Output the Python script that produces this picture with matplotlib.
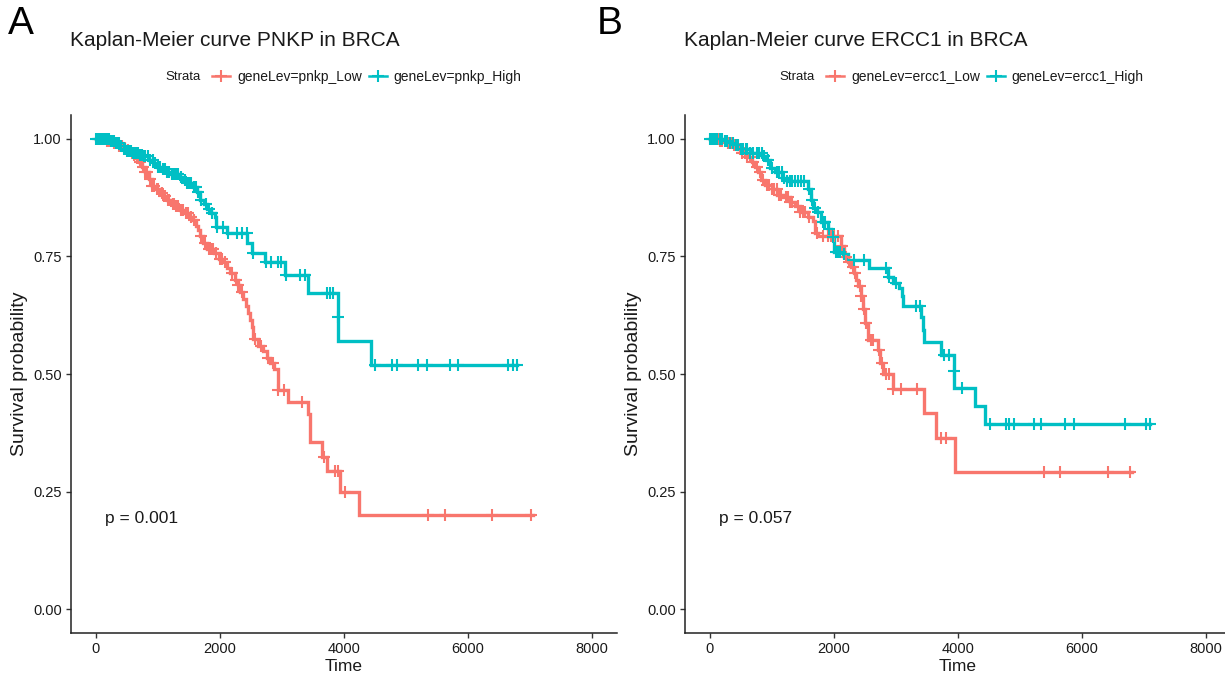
import numpy as np
import matplotlib
matplotlib.use("Agg")
import matplotlib.pyplot as plt
from matplotlib.lines import Line2D

plt.rcParams["font.family"] = ["Liberation Sans", "DejaVu Sans"]

RED = "#F8766D"
TEAL = "#00BFC4"

# ---------------- PNKP (panel A) ----------------
pnkp_low_time = [0, 150, 280, 360, 440, 500, 550, 600, 640, 700, 740, 790, 850, 900, 950,
                 1030, 1090, 1145, 1210, 1275, 1350, 1430, 1515, 1560, 1610, 1640, 1680,
                 1725, 1790, 1900, 1980, 2050, 2110, 2160, 2240, 2290, 2330, 2380, 2420,
                 2450, 2480, 2510, 2535, 2620, 2700, 2760, 2810, 2870, 2940, 3100, 3420,
                 3450, 3640, 3720, 3935, 4240]
pnkp_low_surv = [1.0, 0.995, 0.99, 0.985, 0.98, 0.975, 0.97, 0.965, 0.958, 0.95, 0.94, 0.93,
                 0.915, 0.90, 0.893, 0.885, 0.878, 0.87, 0.862, 0.856, 0.849, 0.842, 0.834,
                 0.828, 0.815, 0.805, 0.792, 0.779, 0.765, 0.758, 0.745, 0.737, 0.726, 0.715,
                 0.70, 0.688, 0.675, 0.66, 0.645, 0.63, 0.615, 0.60, 0.575, 0.56, 0.548,
                 0.535, 0.524, 0.51, 0.467, 0.44, 0.414, 0.355, 0.323, 0.293, 0.25, 0.20]
pnkp_low_end = 7050
pnkp_low_censor = [30, 60, 100, 140, 180, 220, 250, 300, 320, 380, 400, 430, 470, 520, 580,
                   620, 660, 690, 720, 760, 800, 820, 870, 900, 930, 980, 1010, 1060, 1100,
                   1120, 1160, 1180, 1240, 1260, 1300, 1330, 1380, 1410, 1460, 1490, 1540,
                   1590, 1700, 1760, 1820, 1850, 1880, 1890, 1940, 2000, 2040, 2080, 2190,
                   2260, 2290, 2350, 2560, 2660, 2780, 2850, 2940, 3030, 3320, 3670, 3860,
                   3910, 4020, 5350, 5630, 6390, 7010]

pnkp_high_time = [0, 230, 300, 380, 420, 500, 580, 710, 760, 850, 930, 980, 1060, 1120,
                  1190, 1355, 1400, 1460, 1560, 1630, 1677, 1740, 1790, 1850, 1920, 1930,
                  2110, 2440, 2520, 2720, 3050, 3420, 3900, 3910, 4435]
pnkp_high_surv = [1.0, 0.995, 0.99, 0.985, 0.978, 0.973, 0.97, 0.966, 0.962, 0.955, 0.948,
                  0.94, 0.935, 0.93, 0.924, 0.919, 0.912, 0.906, 0.897, 0.887, 0.87, 0.86,
                  0.85, 0.842, 0.834, 0.813, 0.80, 0.779, 0.758, 0.737, 0.711, 0.671, 0.622,
                  0.571, 0.52]
pnkp_high_end = 6790
pnkp_high_censor = [0, 30, 50, 80, 100, 120, 140, 160, 180, 210, 240, 260, 290, 330, 350,
                    370, 400, 450, 470, 500, 530, 560, 600, 620, 650, 680, 720, 740, 780,
                    800, 840, 880, 920, 960, 1010, 1040, 1090, 1110, 1150, 1180, 1220, 1260,
                    1300, 1330, 1380, 1430, 1470, 1500, 1530, 1590, 1610, 1650, 1700, 1770,
                    1820, 1880, 1960, 2050, 2130, 2270, 2350, 2430, 2530, 2750, 2830, 2940,
                    2990, 3070, 3290, 3370, 3720, 3770, 3830, 3905, 4500, 4770, 4850, 5190,
                    5335, 5710, 5840, 6650, 6720, 6790]

# ---------------- ERCC1 (panel B) ----------------
ercc1_low_time = [0, 150, 300, 375, 455, 520, 600, 680, 730, 780, 830, 890, 1000, 1090,
                  1180, 1290, 1380, 1460, 1575, 1670, 1700, 1750, 2110, 2160, 2220, 2270,
                  2320, 2360, 2395, 2430, 2465, 2500, 2545, 2710, 2750, 2790, 2950, 3455,
                  3650, 3950]
ercc1_low_surv = [1.0, 0.995, 0.99, 0.987, 0.977, 0.97, 0.96, 0.951, 0.94, 0.928, 0.913,
                  0.902, 0.892, 0.881, 0.875, 0.866, 0.856, 0.845, 0.834, 0.824, 0.80, 0.792,
                  0.771, 0.749, 0.737, 0.728, 0.715, 0.70, 0.686, 0.665, 0.637, 0.609, 0.573,
                  0.552, 0.524, 0.501, 0.469, 0.418, 0.365, 0.291]
ercc1_low_end = 6800
ercc1_low_censor = [40, 80, 130, 170, 200, 260, 300, 340, 390, 420, 480, 520, 560, 600, 640,
                    700, 760, 810, 860, 920, 960, 1000, 1040, 1080, 1120, 1150, 1220, 1260,
                    1300, 1330, 1420, 1460, 1500, 1540, 1600, 1730, 1820, 1900, 1950, 2000,
                    2060, 2130, 2190, 2250, 2300, 2340, 2420, 2440, 2480, 2520, 2600, 2630,
                    2720, 2770, 2840, 2880, 2960, 3080, 3340, 3730, 3810, 5390, 5650, 6410,
                    6780]

ercc1_high_time = [0, 210, 300, 375, 490, 650, 845, 900, 975, 1050, 1170, 1250, 1575, 1625,
                   1670, 1720, 1785, 1900, 1950, 2000, 2150, 2220, 2565, 2870, 2950, 3050,
                   3090, 3115, 3400, 3430, 3460, 3730, 3930, 3935, 4270, 4430]
ercc1_high_surv = [1.0, 0.995, 0.99, 0.987, 0.977, 0.97, 0.962, 0.955, 0.938, 0.928, 0.917,
                   0.909, 0.892, 0.87, 0.853, 0.843, 0.822, 0.807, 0.79, 0.76, 0.754, 0.743,
                   0.726, 0.707, 0.694, 0.683, 0.665, 0.645, 0.622, 0.594, 0.567, 0.541,
                   0.507, 0.471, 0.433, 0.393]
ercc1_high_end = 7090
ercc1_high_censor = [0, 30, 60, 90, 120, 170, 200, 240, 280, 330, 370, 420, 450, 500, 530,
                     580, 600, 650, 700, 760, 800, 840, 880, 940, 1010, 1080, 1120, 1160,
                     1200, 1250, 1290, 1330, 1380, 1420, 1470, 1520, 1600, 1650, 1690, 1750,
                     1820, 1860, 1920, 1980, 2030, 2060, 2100, 2160, 2320, 2480, 2840, 2890,
                     3000, 3330, 3380, 3780, 3860, 3932, 4060, 4510, 4780, 4820, 4900, 5230,
                     5340, 5730, 5870, 6690, 7030, 7090]

panels = [
    dict(letter="A", title="Kaplan-Meier curve PNKP in BRCA", gene="pnkp", pval="p = 0.001",
         low=(pnkp_low_time, pnkp_low_surv, pnkp_low_end, pnkp_low_censor),
         high=(pnkp_high_time, pnkp_high_surv, pnkp_high_end, pnkp_high_censor),
         left_px=71, letter_px=8),
    dict(letter="B", title="Kaplan-Meier curve ERCC1 in BRCA", gene="ercc1", pval="p = 0.057",
         low=(ercc1_low_time, ercc1_low_surv, ercc1_low_end, ercc1_low_censor),
         high=(ercc1_high_time, ercc1_high_surv, ercc1_high_end, ercc1_high_censor),
         left_px=685, letter_px=597),
]

W, H = 1225, 681
fig = plt.figure(figsize=(W / 100, H / 100), dpi=100)
fig.patch.set_facecolor("white")

AX_W, AX_BOTTOM, AX_TOP = 546, 633, 115
TICK_COLOR = "#333333"
TEXT_COLOR = "#1a1a1a"
LW = 2.4
MS = 8
MEW = 1.5


def draw_km(ax, time, surv, end, censor, color):
    t = np.asarray(time, dtype=float)
    s = np.asarray(surv, dtype=float)
    tx = np.append(t, end)
    sx = np.append(s, s[-1])
    ax.step(tx, sx, where="post", color=color, lw=LW, solid_joinstyle="miter", zorder=2)
    c = np.asarray(censor, dtype=float)
    idx = np.searchsorted(t, c, side="right") - 1
    ax.plot(c, s[idx], ls="none", marker="+", ms=MS, mew=MEW, color=color, zorder=3)


for p in panels:
    left = p["left_px"]
    ax = fig.add_axes([left / W, 1 - AX_BOTTOM / H, AX_W / W, (AX_BOTTOM - AX_TOP) / H])
    draw_km(ax, *p["low"], RED)
    draw_km(ax, *p["high"], TEAL)

    ax.set_xlim(-400, 8400)
    ax.set_ylim(-0.05, 1.05)
    ax.set_xticks([0, 2000, 4000, 6000, 8000])
    ax.set_yticks([0, 0.25, 0.5, 0.75, 1.0])
    ax.set_yticklabels(["0.00", "0.25", "0.50", "0.75", "1.00"])
    for side in ("top", "right"):
        ax.spines[side].set_visible(False)
    for side in ("left", "bottom"):
        ax.spines[side].set_linewidth(1.1)
        ax.spines[side].set_color("#222222")
    ax.tick_params(axis="both", direction="out", length=3.5, width=1.0, color=TICK_COLOR,
                   labelsize=10.5, labelcolor=TEXT_COLOR, pad=3)
    ax.set_xlabel("Time", fontsize=12.5, color=TEXT_COLOR, labelpad=2)
    ax.set_ylabel("Survival probability", fontsize=14, color=TEXT_COLOR, labelpad=4)
    ax.text(141, 0.193, p["pval"], fontsize=12.5, color=TEXT_COLOR, ha="left", va="center")

    # panel letter and title
    fig.text(p["letter_px"] / W, 1 - 24 / H, p["letter"], fontsize=28, color="black",
             ha="left", va="center")
    fig.text((left - 1) / W, 1 - 40 / H, p["title"], fontsize=15, color=TEXT_COLOR,
             ha="left", va="center")

    # legend row: "Strata" followed by the two strata entries
    handles = [Line2D([], [], color=RED, lw=1.8, marker="+", ms=9, mew=1.5),
               Line2D([], [], color=TEAL, lw=1.8, marker="+", ms=9, mew=1.5)]
    labels = [f"geneLev={p['gene']}_Low", f"geneLev={p['gene']}_High"]
    strata_x = left + 94
    fig.text(strata_x / W, 1 - 77 / H, "Strata", fontsize=9.5, color=TEXT_COLOR,
             ha="left", va="center")
    fig.legend(handles, labels, loc="center left",
               bbox_to_anchor=((strata_x + 47) / W, 1 - 77 / H), ncol=2, frameon=False,
               fontsize=10, handlelength=1.3, handletextpad=0.5, columnspacing=0.5,
               borderpad=0, borderaxespad=0, labelcolor=TEXT_COLOR)

fig.savefig("out.png", dpi=100, facecolor="white")
